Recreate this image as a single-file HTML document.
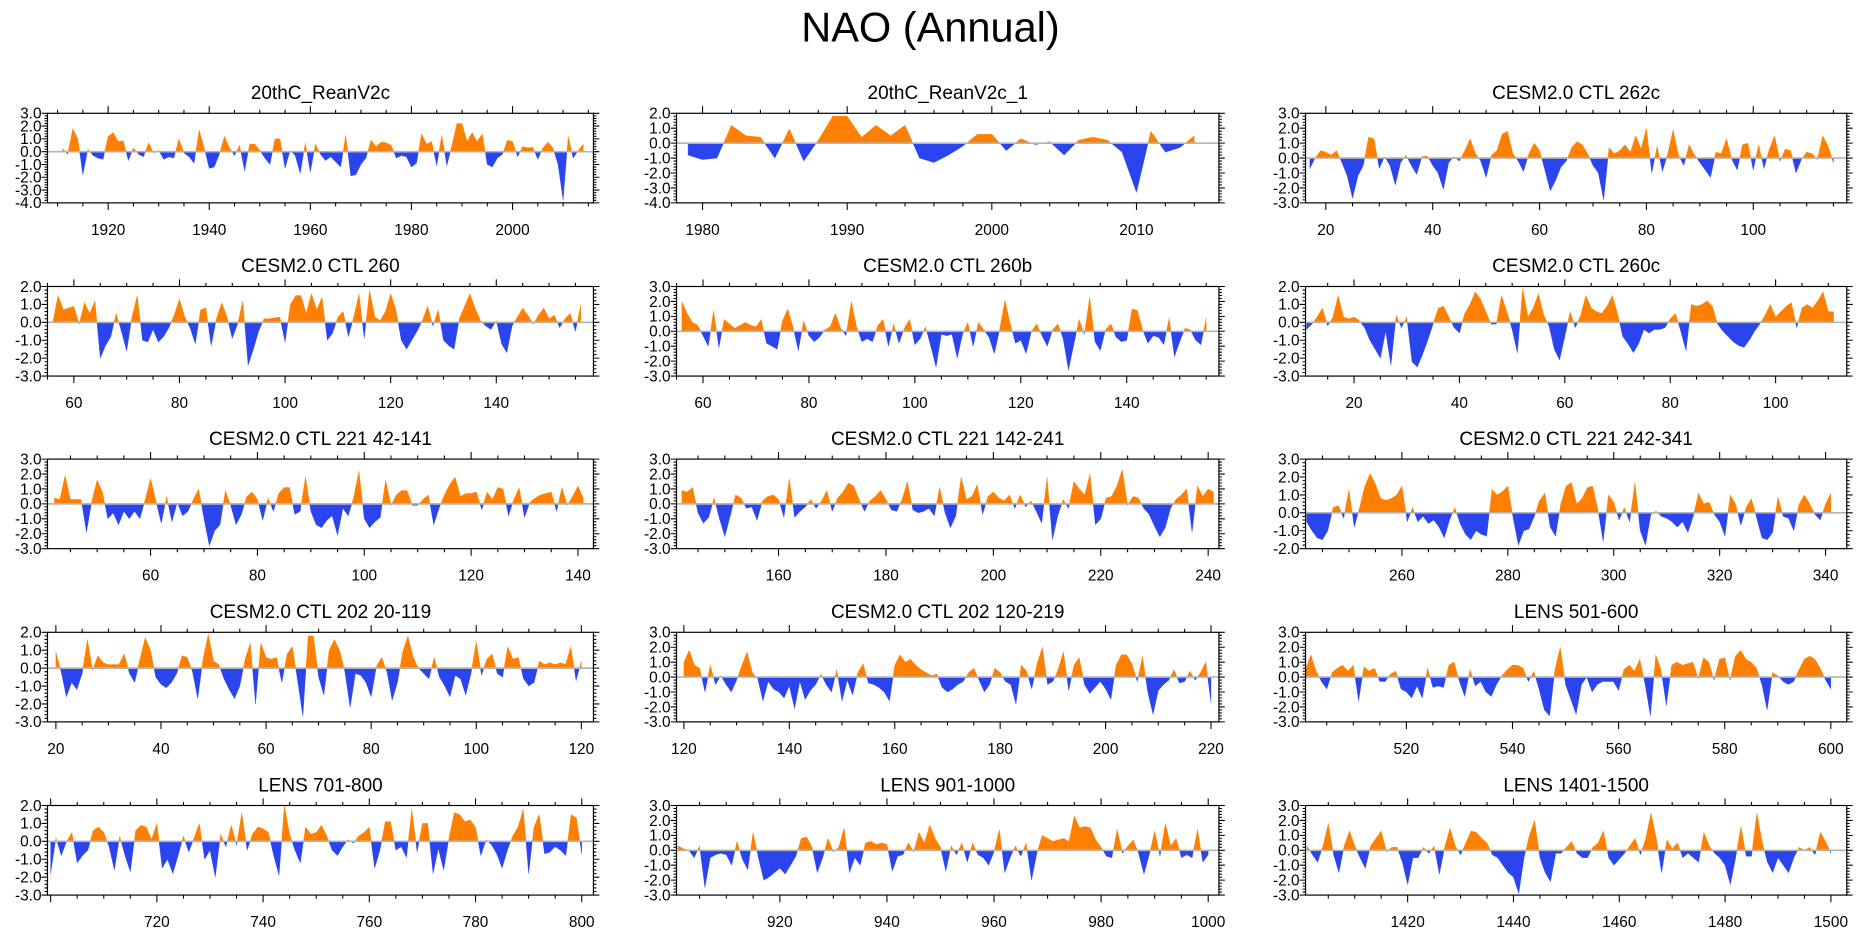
<!DOCTYPE html>
<html><head><meta charset="utf-8"><style>
html,body{margin:0;padding:0;background:#fff;}
svg{display:block;font-family:"Liberation Sans",Arial,sans-serif;}
</style></head><body>
<svg id="chart" width="1861" height="936" viewBox="0 0 1568 789" preserveAspectRatio="none" xmlns="http://www.w3.org/2000/svg">
<rect x="0" y="0" width="1568" height="789" fill="#fff"/>
<text x="784" y="35" text-anchor="middle" font-size="35">NAO (Annual)</text>
</svg>
<script>
// ---- data (annual NAO index per panel) ----
const titles = ["20thC_ReanV2c","20thC_ReanV2c_1","CESM2.0 CTL 262c","CESM2.0 CTL 260","CESM2.0 CTL 260b","CESM2.0 CTL 260c","CESM2.0 CTL 221 42-141","CESM2.0 CTL 221 142-241","CESM2.0 CTL 221 242-341","CESM2.0 CTL 202 20-119","CESM2.0 CTL 202 120-219","LENS 501-600","LENS 701-800","LENS 901-1000","LENS 1401-1500"];
const startYears = [1911,1979,17,56,56,11,42,142,242,20,120,501,700,901,1401];
const xMins = [1908,1978.2,16.2,55,55,10.8,40.7,141,241.8,18.4,118.6,501,699.4,900.7,1400.7];
const xMaxs = [2016,2015.7,117.5,158.4,157.4,113.5,142.9,242,344,122.3,221.5,603,802.2,1002,1503];
const yMaxs = [3,2,3,2,3,2,3,3,3,2,3,3,2,3,3];
const yMins = [-4,-4,-3,-3,-3,-3,-3,-3,-2,-3,-3,-3,-3,-3,-3];
const xTickLabels = [
 [1920,1940,1960,1980,2000],[1980,1990,2000,2010],[20,40,60,80,100],
 [60,80,100,120,140],[60,80,100,120,140],[20,40,60,80,100],
 [60,80,100,120,140],[160,180,200,220,240],[260,280,300,320,340],
 [20,40,60,80,100,120],[120,140,160,180,200,220],[520,540,560,580,600],
 [720,740,760,780,800],[920,940,960,980,1000],[1420,1440,1460,1480,1500]];
const s0 = [0.25,-0.2,1.8,1.0,-1.8,0.2,-0.3,-0.5,-0.6,1.2,1.5,0.8,0.85,-0.7,0.3,-0.2,-0.4,0.7,-0.1,0.1,-0.6,-0.4,-0.5,1.0,-0.1,-0.4,-0.9,1.7,0.3,-1.3,-1.2,-0.2,1.2,0.3,-0.3,0.5,-1.5,0.6,0.6,0.1,-0.5,-1.0,1.0,1.0,-1.3,0.1,-0.3,-1.7,0.7,-1.6,0.6,-0.2,-0.7,-0.4,-0.8,-1.2,1.3,-1.9,-1.8,-1.0,-0.5,0.9,0.4,0.75,0.7,0.5,-0.5,-0.3,-0.4,-1.2,-0.9,1.4,0.6,0.8,-1.1,1.3,-1.1,0.5,2.2,2.2,0.8,1.5,0.8,1.4,-1.0,-1.2,-0.5,-0.2,0.9,0.8,-0.4,0.4,0.3,0.35,-0.6,0.3,0.75,0.3,-1.0,-3.8,1.2,-0.5,0.1,0.6];
const s1 = [-0.8,-1.1,-1.0,1.2,0.5,0.4,-1.0,0.95,-1.2,0.2,1.8,1.8,0.4,1.2,0.5,1.2,-1.0,-1.3,-0.8,-0.2,0.6,0.6,-0.5,0.3,-0.1,0.1,-0.8,0.2,0.4,0.2,-0.6,-3.3,0.8,-0.6,-0.3,0.5];
const s2 = [-0.7,0.0,0.5,0.4,0.2,0.5,-0.3,-1.2,-2.7,-1.2,-0.5,1.4,1.3,-0.7,0.1,-0.5,-1.8,-0.3,0.2,-0.5,-1.1,0.1,0.15,-0.5,-1.0,-2.1,-0.3,0.1,-0.2,0.5,1.3,0.3,-0.2,-1.3,0.2,0.5,1.6,1.8,0.3,-0.2,-0.9,0.3,1.0,0.5,-0.8,-2.2,-1.5,-0.6,-0.2,0.7,1.1,0.9,0.3,-0.5,-1.0,-2.8,0.7,0.3,0.5,0.9,0.4,1.5,0.6,2.0,-1.0,0.8,-0.9,0.3,1.9,0.2,-0.5,0.9,0.2,-0.3,-0.8,-1.3,0.4,0.3,1.3,-0.1,-0.8,0.9,1.0,-0.8,0.9,-0.7,0.6,1.5,-0.2,0.6,0.5,-1.0,-0.1,0.4,0.3,-0.1,1.5,0.8,-0.3];
const s3 = [0.0,1.5,0.7,0.8,0.9,-0.1,1.1,0.5,1.2,-2.0,-1.3,-0.8,0.5,-0.5,-1.6,0.3,1.5,-1.0,-1.1,-0.4,-1.1,-0.8,-0.3,0.4,1.3,0.3,-0.3,-1.2,0.7,0.8,-1.3,0.2,1.1,0.3,-0.9,-0.1,1.2,-2.4,-1.5,-0.5,0.2,0.2,0.25,0.3,-1.1,1.0,1.5,1.5,0.5,1.6,0.7,1.4,-1.0,-0.6,0.3,0.6,-0.8,0.3,1.6,-0.9,1.8,0.3,0.1,0.6,1.6,0.7,-1.0,-1.5,-1.0,-0.5,0.1,0.9,-0.2,0.7,-1.0,-1.3,-1.5,0.2,0.9,1.6,0.8,0.1,-0.2,-0.4,0.1,-1.2,-1.7,-0.2,0.3,0.8,0.4,-0.1,0.4,0.8,0.2,0.4,-0.3,0.2,0.5,-0.5,1.0];
const s4 = [2.0,1.2,0.6,0.4,-0.3,-1.0,1.4,-1.1,0.8,0.5,0.2,0.4,0.6,0.4,0.3,0.8,-0.8,-1.0,-1.2,0.7,1.5,0.3,-1.3,0.7,-0.3,-0.7,-0.4,0.1,0.3,1.2,0.2,-0.3,2.0,0.3,-0.7,-0.5,-0.7,0.4,0.8,-1.0,0.5,-0.8,0.2,0.8,-0.9,-0.5,0.3,-1.0,-2.4,-0.2,-0.3,-0.2,-1.8,-0.2,0.6,-1.0,0.6,0.1,-0.4,-1.5,0.1,2.1,0.5,-0.8,-0.6,-1.5,0.0,0.5,-0.3,-1.0,0.1,0.5,-0.5,-2.6,-0.9,0.8,-0.2,2.3,-0.7,-1.3,0.1,0.5,-0.4,-0.7,-0.6,1.5,1.4,0.1,-0.8,-0.3,-0.4,-0.9,0.9,-1.7,-0.7,0.2,0.1,-0.6,-0.9,0.9];
const s5 = [-0.4,-0.1,0.3,0.8,-0.2,0.3,1.5,0.3,0.2,0.3,0.1,-0.3,-1.0,-1.5,-2.0,-0.5,-2.4,0.4,-0.3,0.3,-2.2,-2.5,-1.8,-1.0,-0.1,0.8,0.9,0.3,-0.3,-0.6,0.5,1.0,1.7,1.3,0.6,-0.1,-0.1,1.5,0.6,-0.4,-1.7,1.9,0.3,0.8,1.6,0.4,-0.2,-1.5,-2.1,-0.8,0.6,-0.3,0.4,1.5,0.8,0.6,0.5,0.9,1.5,0.5,-0.8,-1.2,-1.7,-1.2,-0.4,-0.6,-0.4,-0.4,-0.3,0.2,0.5,-0.5,-1.6,1.0,0.9,1.0,1.2,0.9,-0.1,-0.5,-0.8,-1.1,-1.3,-1.4,-1.0,-0.5,-0.1,0.4,1.0,0.3,0.6,0.9,1.1,-0.3,0.8,1.0,0.8,1.2,1.7,0.6,0.6];
const s6 = [0.4,0.3,1.9,0.3,0.3,0.3,-1.9,0.2,1.6,0.8,-1.0,-0.6,-1.4,-0.5,-1.0,-0.5,-1.0,0.3,1.7,0.2,-1.3,0.5,-1.2,0.1,-0.8,-0.5,0.3,1.0,-1.0,-2.8,-1.8,-1.4,0.9,-0.1,-1.4,-0.7,0.5,0.8,0.3,-1.1,0.4,-0.5,0.7,1.1,1.1,-0.7,-0.5,1.8,-0.5,-1.4,-1.6,-1.1,-0.8,-2.1,-0.3,-0.8,0.4,2.2,-1.0,-1.6,-1.2,-0.9,1.6,-0.1,0.6,0.9,0.9,-0.1,-0.1,0.3,0.6,-1.4,-0.3,0.6,1.3,1.8,0.5,0.7,0.7,0.8,-0.4,0.8,0.3,1.1,1.0,-0.8,0.3,1.1,-0.9,0.1,0.4,0.6,0.7,0.8,-0.5,1.1,-0.1,0.5,1.2,0.4];
const s7 = [0.9,0.8,1.1,-0.6,-1.3,-0.9,0.4,-1.0,-2.2,-0.8,0.6,0.4,-0.3,-0.2,-1.1,0.2,0.5,0.6,0.3,-0.9,1.7,-0.9,-0.5,-0.2,0.3,-0.3,0.2,0.9,-0.5,0.4,0.8,1.4,1.2,0.3,-0.5,0.2,0.5,0.9,0.3,-0.4,-0.5,0.3,1.5,-0.4,-0.6,-0.5,-0.3,-0.8,1.1,-0.6,-1.6,-0.8,1.8,0.3,0.5,1.3,-0.7,0.5,0.8,0.4,0.2,0.6,-0.3,0.6,-0.2,0.2,-0.5,-1.3,1.8,-2.4,-0.8,0.3,-0.3,1.5,1.0,0.6,2.0,-1.4,-1.0,0.4,0.5,1.2,2.3,-0.1,0.5,0.4,-0.3,-0.7,-1.5,-2.2,-1.6,-0.3,0.3,0.6,1.0,-1.9,1.2,0.5,1.0,0.8];
const s8 = [-0.5,-1.0,-1.4,-1.5,-1.0,0.3,0.4,-0.3,1.3,-0.8,0.3,1.5,2.2,1.6,0.8,0.7,0.8,1.0,1.5,-0.5,0.3,-0.5,-0.2,-0.6,-0.4,-0.8,-1.4,-0.4,0.3,-0.6,-1.2,-1.5,-1.0,-1.2,-1.3,1.3,1.0,1.2,1.5,-0.3,-1.8,-1.0,-0.9,-0.2,0.7,1.1,-0.8,-1.3,0.5,1.5,1.7,0.5,0.8,1.4,1.5,0.2,-1.6,1.0,0.6,-0.4,0.3,-0.5,1.7,-1.0,-1.8,-0.1,0.1,-0.2,-0.3,-0.5,-0.8,-0.5,-1.1,-0.2,1.1,0.5,0.6,-0.1,-0.5,-1.3,1.0,0.5,-0.7,0.3,0.8,-0.3,-1.4,-1.5,-1.1,0.9,-0.2,-0.3,-1.0,0.5,1.0,0.5,-0.1,-0.4,0.5,1.1];
const s9 = [0.9,-0.2,-1.6,-0.8,-1.2,-0.3,1.6,-0.1,0.7,0.3,0.2,0.2,0.2,0.8,-0.3,-0.8,0.5,1.7,1.0,-0.5,-0.9,-1.1,-0.8,-0.3,0.7,0.6,-0.2,-1.7,0.5,1.9,0.4,0.2,-0.6,-1.2,-1.7,-1.0,0.5,1.4,-2.0,1.4,0.6,0.5,0.6,-0.8,0.8,1.2,-0.7,-2.7,1.8,1.8,-0.5,-1.5,1.0,1.6,1.0,-0.2,-2.2,-0.3,-0.4,-0.8,-1.6,0.1,0.6,-0.2,-1.8,-0.8,0.9,1.8,0.6,0.0,-0.3,-0.6,0.6,-0.5,-1.0,-1.6,-0.4,-0.6,-1.5,-0.3,1.5,-0.4,0.5,0.8,-0.3,-0.5,1.2,0.5,0.6,-0.6,-1.0,-0.8,0.4,0.2,0.3,0.2,0.3,0.2,1.2,-0.7,0.4];
const s10 = [1.0,1.8,0.8,0.6,-1.0,0.8,-0.5,0.1,-0.5,-1.0,-0.2,0.8,1.7,0.3,-0.1,-1.6,-0.3,-0.8,-1.0,-1.4,-0.6,-2.1,-0.3,-1.5,-0.9,-0.5,0.2,-0.5,-1.0,0.5,-1.6,-0.2,-1.2,0.3,0.9,-0.4,-0.5,-0.7,-1.0,-1.6,0.8,1.5,1.0,1.2,0.8,0.5,0.3,0.1,0.2,-0.7,-1.0,-0.8,-0.5,-0.3,0.3,0.6,-0.2,-1.0,-0.5,0.6,0.3,-0.3,-0.5,-1.8,0.8,0.4,-0.8,0.9,2.0,-0.5,-0.3,0.5,1.7,-0.9,0.8,1.3,-0.5,-1.1,-0.7,-0.3,-0.8,-1.5,0.8,1.5,1.5,0.9,-0.3,1.4,-1.0,-2.5,-0.9,-0.5,-0.2,0.5,-0.4,-0.3,0.4,-0.2,0.3,1.0,-1.7];
const s11 = [0.5,1.5,0.4,-0.3,-0.8,0.3,0.6,0.8,0.4,0.8,-1.6,0.7,0.4,0.6,-0.3,-0.3,0.2,0.4,-0.8,-1.0,-1.4,-0.6,-1.4,0.6,-0.7,-0.6,-0.7,0.8,1.0,-0.3,-1.3,0.5,-0.6,-0.3,-1.0,-1.3,-0.5,0.1,0.5,0.8,0.8,0.6,-0.3,0.4,-0.8,-2.2,-2.6,0.5,2.0,-0.5,-1.5,-2.5,-0.5,0.0,-1.0,-0.5,-0.3,-0.3,-0.3,-0.9,0.5,0.8,0.4,1.2,-0.5,-2.6,1.5,0.5,-1.9,0.8,1.0,0.8,0.9,1.0,-0.1,1.3,1.0,-0.2,1.2,1.3,-0.2,1.4,1.8,1.2,1.0,0.6,-0.5,-2.2,0.3,0.1,-0.3,-0.5,-0.3,0.5,1.2,1.4,1.2,0.6,-0.2,-0.8];
const s12 = [-1.8,0.2,-0.8,0.0,0.5,-1.2,-0.8,-0.5,0.6,0.8,0.5,-0.3,-1.6,0.3,-0.8,-1.7,0.6,0.9,0.8,0.1,1.0,-1.5,-1.0,-1.8,-0.8,0.3,-0.6,0.2,1.0,-1.0,-0.5,-2.0,0.4,-0.3,0.9,-0.2,1.6,-0.5,0.4,0.8,0.7,0.5,-0.8,-1.9,2.0,0.4,-0.5,-1.2,0.8,0.4,0.5,0.9,0.3,-0.5,-0.8,-0.3,0.1,-0.1,0.3,0.5,0.8,-1.5,-0.5,1.1,1.1,-0.5,-0.3,-0.9,1.8,-0.6,1.0,1.0,-1.8,-0.4,-1.6,0.2,1.6,1.5,1.1,1.2,0.8,-0.8,0.1,-0.2,-0.7,-1.5,-0.5,0.3,0.8,1.8,-1.8,0.8,1.5,-0.7,-0.6,-0.3,-0.5,-0.8,1.5,1.3,-0.7];
const s13 = [0.3,0.1,0.0,-0.5,0.3,-2.5,-0.5,-0.3,-0.2,-0.3,-1.0,0.6,-0.6,-1.3,1.2,-0.5,-2.0,-1.8,-1.5,-1.2,-1.6,-1.0,-0.4,0.8,0.9,0.2,-1.5,-0.5,0.8,-0.1,0.2,1.5,-1.5,-0.5,-1.0,0.5,0.6,0.4,0.5,0.4,-1.4,-0.4,-0.3,0.5,-0.1,1.2,0.5,1.7,0.8,0.2,-1.4,0.3,-0.3,0.5,-0.8,0.5,-0.3,-0.5,-1.0,-0.1,1.4,-1.5,-0.5,0.3,-0.4,0.5,-2.0,-0.2,1.0,0.8,0.6,0.7,0.8,0.6,2.3,1.5,1.6,1.5,0.7,0.2,-0.4,-0.5,1.4,-0.2,0.3,0.7,-0.2,-1.6,-0.3,1.3,-0.4,1.8,0.3,0.8,-0.5,-0.3,-0.5,1.4,-0.8,-0.3];
const s14 = [0.3,-0.3,-0.8,0.3,1.8,-0.3,-1.5,0.3,1.3,0.3,-0.5,-1.2,0.3,0.8,1.3,-0.1,0.2,0.2,-0.8,-2.3,-0.5,-0.5,0.2,-0.2,0.3,-1.6,0.2,1.5,0.3,-0.3,0.5,1.3,1.2,0.8,0.5,-0.3,-0.5,-1.0,-1.5,-1.8,-2.9,-0.5,1.0,2.0,-0.5,-1.5,-2.1,-0.2,-0.2,0.2,0.6,-0.2,-0.5,-0.5,0.2,0.5,1.3,-0.5,-1.0,-0.6,-0.2,0.3,0.8,-0.3,0.8,2.5,0.8,-1.5,0.7,0.1,0.5,-0.5,-0.2,-0.5,-0.8,1.2,0.3,-0.2,-0.5,-1.0,-2.3,-0.5,1.6,-0.4,-0.4,2.5,0.6,-0.8,-1.5,-0.5,-1.0,-1.5,-0.5,0.2,0.0,0.2,-0.3,1.2,0.6,-0.2];
const allSeries = [s0,s1,s2,s3,s4,s5,s6,s7,s8,s9,s10,s11,s12,s13,s14];

// ---- layout ----
const colL = [40,570,1100], colR = [500,1027,1556];
const rowT = [95.5,241.5,387,533,679], PH = 75.5;
const NS = "http://www.w3.org/2000/svg";
const svg = document.getElementById('chart');
function mk(tag, attrs, parent){ const e=document.createElementNS(NS,tag); for(const k in attrs) e.setAttribute(k,attrs[k]); (parent||svg).appendChild(e); return e; }

for(let p=0;p<15;p++){
  const r=Math.floor(p/3), c=p%3;
  const L=colL[c], R=colR[c], T=rowT[r], B=T+PH;
  const g=mk('g',{});
  
  
  const xs=v=>L+(v-xMins[p])/(xMaxs[p]-xMins[p])*(R-L);
  const ys=v=>T+(yMaxs[p]-v)/(yMaxs[p]-yMins[p])*(B-T);
  const t=mk('text',{x:(L+R)/2,y:T-12,'text-anchor':'middle','font-size':'16'},g);
  t.textContent=titles[p];
  
  
  // build points with zero crossings
  const d=allSeries[p], st=startYears[p];
  const pts=[];
  for(let i=0;i<d.length;i++){
    if(i>0){ const a=d[i-1], b=d[i]; if((a>0&&b<0)||(a<0&&b>0)){ const f=a/(a-b); pts.push([st+i-1+f,0]); } }
    pts.push([st+i,d[i]]);
  }
  let pp='M'+xs(pts[0][0])+','+ys(0), np=pp;
  pts.forEach(q=>{ pp+='L'+xs(q[0]).toFixed(2)+','+ys(Math.max(q[1],0)).toFixed(2); np+='L'+xs(q[0]).toFixed(2)+','+ys(Math.min(q[1],0)).toFixed(2); });
  const last=pts[pts.length-1][0];
  pp+='L'+xs(last)+','+ys(0)+'Z'; np+='L'+xs(last)+','+ys(0)+'Z';
  const pa=mk('path',{d:pp,fill:'#ff8000',stroke:'#ff8000','stroke-width':'0.3'},g);
  
  
  const na=mk('path',{d:np,fill:'#2b45ee',stroke:'#2b45ee','stroke-width':'0.3'},g);
  
  
  const zl=mk('line',{x1:L,x2:R,y1:ys(0),y2:ys(0),stroke:'#b4b4b4','stroke-width':'1.4'},g);
  
  
  // frame
  const fr=mk('rect',{x:L,y:T,width:R-L,height:B-T,fill:'none',stroke:'#000','stroke-width':'1'},g);
  
  
  // y ticks
  let tk='';
  for(let v=yMins[p]; v<=yMaxs[p]+1e-6; v+=0.2){
    const vv=Math.round(v*10)/10, y=ys(vv), major=Math.abs(vv-Math.round(vv))<1e-6, len=major?5:2.5;
    tk+=`M${L},${y}h${-len}M${R},${y}h${len}`;
    if(major){ const yl=mk('text',{x:L-5,y:y+4.5,'text-anchor':'end','font-size':'13'},g); yl.textContent=vv.toFixed(1);
      
       }
  }
  // x ticks
  const labs=xTickLabels[p], step=labs[1]-labs[0], minor=step/(step===10?5:4);
  const m0=Math.ceil(xMins[p]/minor)*minor;
  for(let v=m0; v<=xMaxs[p]; v+=minor){
    const x=xs(v), major=Math.abs(v/step-Math.round(v/step))<1e-6, len=major?6:3;
    tk+=`M${x},${B}v${len}M${x},${T}v${-len}`;
  }
  labs.forEach(v=>{ const xl=mk('text',{x:xs(v),y:B+27,'text-anchor':'middle','font-size':'13'},g); xl.textContent=v;
    
     });
  const tp=mk('path',{d:tk,stroke:'#000','stroke-width':'0.9',fill:'none'},g);
  
  
}
</script>
</body></html>
